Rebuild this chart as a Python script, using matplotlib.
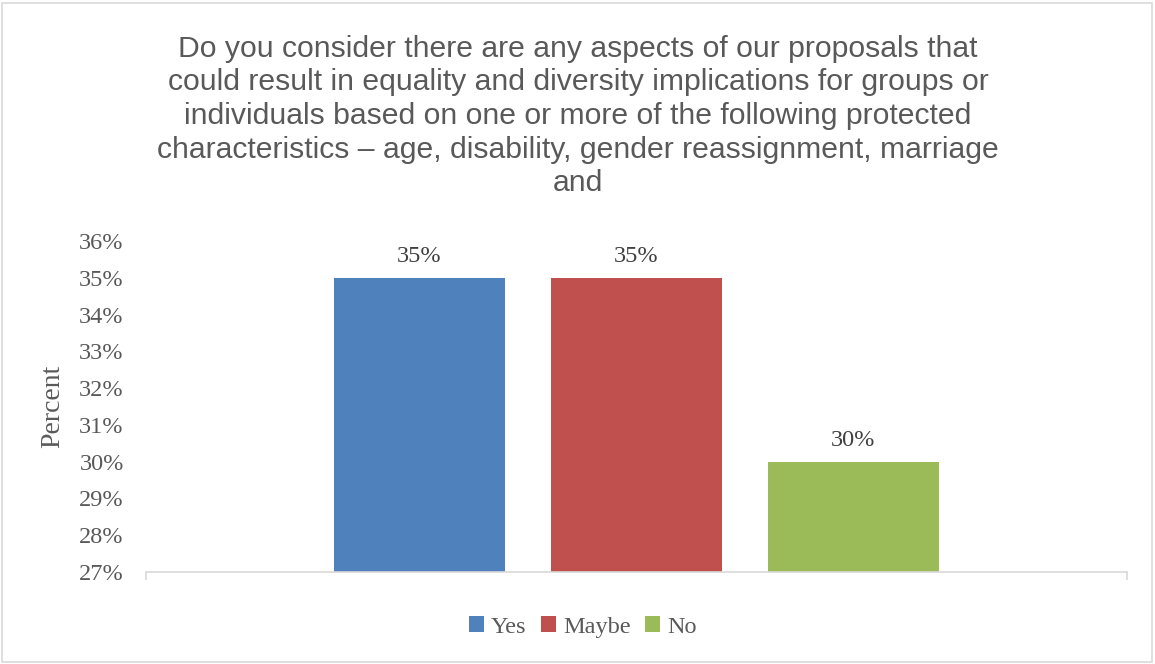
import matplotlib.pyplot as plt
import matplotlib.ticker as mticker
from matplotlib.patches import Rectangle

TITLE = ("Do you consider there are any aspects of our proposals that\n"
         "could result in equality and diversity implications for groups or\n"
         "individuals based on one or more of the following protected\n"
         "characteristics \u2013 age, disability, gender reassignment, marriage\n"
         "and")

answers = ["Yes", "Maybe", "No"]
percents = [35, 35, 30]
colors = ["#4F81BD", "#C0504D", "#9BBB59"]

TEXT = "#595959"
SERIF = "Liberation Serif"

fig = plt.figure(figsize=(11.55, 6.64), dpi=100)
ax = fig.add_axes([146 / 1155, 1 - 572 / 664, (1127 - 146) / 1155, (572 - 241) / 664])

# one category, three series side by side
width = 0.1743
step = 0.2212
for i, (name, val, col) in enumerate(zip(answers, percents, colors)):
    x = 0.5 + (i - 1) * step
    ax.bar(x, val - 27, bottom=27, width=width, color=col, label=name)
    ax.text(x, val + 0.3, f"{val}%", ha="center", va="bottom",
            fontsize=17.5, family=SERIF, color="#404040")

ax.set_xlim(0, 1)
ax.set_ylim(27, 36)
ax.set_yticks(range(27, 37))
ax.yaxis.set_major_formatter(mticker.FuncFormatter(lambda v, _: f"{v:.0f}%"))
ax.set_xticks([0, 1])
ax.set_xticklabels(["", ""])
ax.tick_params(axis="x", length=6, color="#D9D9D9", width=1.2)
ax.tick_params(axis="y", length=0, pad=16, labelsize=17.5, labelcolor=TEXT)
for lab in ax.get_yticklabels():
    lab.set_family(SERIF)
ax.spines[["top", "right", "left"]].set_visible(False)
ax.spines["bottom"].set_color("#D9D9D9")
ax.spines["bottom"].set_linewidth(1.2)

ax.set_ylabel("Percent", fontsize=20, family=SERIF, color=TEXT, labelpad=10)

fig.text(578 / 1155, 1 - 116 / 664, TITLE, ha="center", va="center",
         fontsize=21.7, family="Liberation Sans", color=TEXT, linespacing=1.25)

leg = fig.legend(loc="center", bbox_to_anchor=(583 / 1155, 1 - 627 / 664),
                 ncol=3, frameon=False, handlelength=0.6, handleheight=0.6,
                 handletextpad=0.3, columnspacing=0.6,
                 prop={"family": SERIF, "size": 17.5})
for t in leg.get_texts():
    t.set_color(TEXT)

fig.patches.append(Rectangle((2 / 1155, 2 / 664), 1150 / 1155, 659 / 664,
                             transform=fig.transFigure, fill=False,
                             edgecolor="#D9D9D9", linewidth=1.2))

fig.savefig("out.png", dpi=100)
